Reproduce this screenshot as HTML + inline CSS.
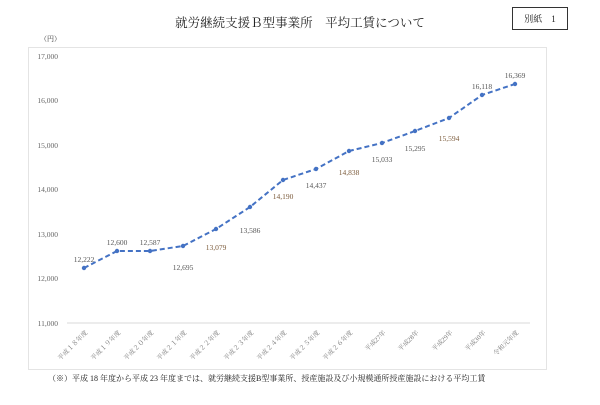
<!DOCTYPE html>
<html><head><meta charset="utf-8"><style>
body{margin:0;background:#fff;width:600px;height:400px;overflow:hidden}
text{font-family:"Liberation Serif","Noto Serif CJK SC",serif}
</style></head><body>
<svg width="600" height="400" xmlns="http://www.w3.org/2000/svg">
<text x="300" y="27" text-anchor="middle" font-size="12.5" fill="#222" font-family="Liberation Sans,Noto Serif CJK SC,serif">就労継続支援Ｂ型事業所　平均工賃について</text>
<rect x="512.5" y="7.5" width="55" height="22" fill="none" stroke="#333"/>
<text x="540" y="22" text-anchor="middle" font-size="9" fill="#222" font-family="Liberation Sans,Noto Sans CJK JP,sans-serif">別紙　1</text>
<text x="40" y="41" font-size="7" fill="#333" font-family="Liberation Sans,Noto Sans CJK JP,sans-serif">（円）</text>
<rect x="28.5" y="47.5" width="518" height="322" fill="none" stroke="#e4e4e4"/>
<g font-size="7.5" fill="#666">
<text x="58" y="59" text-anchor="end">17,000</text>
<text x="58" y="103" text-anchor="end">16,000</text>
<text x="58" y="148" text-anchor="end">15,000</text>
<text x="58" y="192" text-anchor="end">14,000</text>
<text x="58" y="237" text-anchor="end">13,000</text>
<text x="58" y="281" text-anchor="end">12,000</text>
<text x="58" y="326" text-anchor="end">11,000</text>
</g>
<line x1="67" y1="323" x2="530" y2="323" stroke="#d9d9d9" stroke-width="1"/>
<polyline fill="none" stroke="#4472c4" stroke-width="2" stroke-dasharray="5,3" points="84,268 117,251 150,251 183,246 216,229 250,207 283,180 316,169 349,151 382,143 415,131 449,118 482,95 515,84"/>
<g fill="#4472c4">
<circle cx="84" cy="268" r="2.2"/><circle cx="117" cy="251" r="2.2"/><circle cx="150" cy="251" r="2.2"/><circle cx="183" cy="246" r="2.2"/><circle cx="216" cy="229" r="2.2"/><circle cx="250" cy="207" r="2.2"/><circle cx="283" cy="180" r="2.2"/><circle cx="316" cy="169" r="2.2"/><circle cx="349" cy="151" r="2.2"/><circle cx="382" cy="143" r="2.2"/><circle cx="415" cy="131" r="2.2"/><circle cx="449" cy="118" r="2.2"/><circle cx="482" cy="95" r="2.2"/><circle cx="515" cy="84" r="2.2"/>
</g>
<g font-size="7.5" fill="#555" text-anchor="middle">
<text x="84" y="262">12,222</text>
<text x="117" y="245">12,600</text>
<text x="150" y="245">12,587</text>
<text x="183" y="270">12,695</text>
<text x="216" y="250" fill="#7b5a3a">13,079</text>
<text x="250" y="233">13,586</text>
<text x="283" y="199" fill="#7b5a3a">14,190</text>
<text x="316" y="188">14,437</text>
<text x="349" y="175" fill="#7b5a3a">14,838</text>
<text x="382" y="162">15,033</text>
<text x="415" y="151">15,295</text>
<text x="449" y="141" fill="#7b5a3a">15,594</text>
<text x="482" y="89">16,118</text>
<text x="515" y="78">16,369</text>
</g>
<g font-size="6.5" fill="#777" font-family="Liberation Sans,Noto Sans CJK JP,sans-serif" text-anchor="end">
<text transform="translate(88,333) rotate(-45)">平成１８年度</text>
<text transform="translate(121,333) rotate(-45)">平成１９年度</text>
<text transform="translate(154,333) rotate(-45)">平成２０年度</text>
<text transform="translate(187,333) rotate(-45)">平成２１年度</text>
<text transform="translate(220,333) rotate(-45)">平成２２年度</text>
<text transform="translate(254,333) rotate(-45)">平成２３年度</text>
<text transform="translate(287,333) rotate(-45)">平成２４年度</text>
<text transform="translate(320,333) rotate(-45)">平成２５年度</text>
<text transform="translate(353,333) rotate(-45)">平成２６年度</text>
<text transform="translate(386,333) rotate(-45)">平成27年</text>
<text transform="translate(419,333) rotate(-45)">平成28年</text>
<text transform="translate(453,333) rotate(-45)">平成29年</text>
<text transform="translate(486,333) rotate(-45)">平成30年</text>
<text transform="translate(519,333) rotate(-45)">令和元年度</text>
</g>
<text x="48" y="381" font-size="8" fill="#222" font-family="Liberation Sans,Noto Sans CJK JP,sans-serif">（※）平成 18 年度から平成 23 年度までは、就労継続支援B型事業所、授産施設及び小規模通所授産施設における平均工賃</text>
</svg>
</body></html>
